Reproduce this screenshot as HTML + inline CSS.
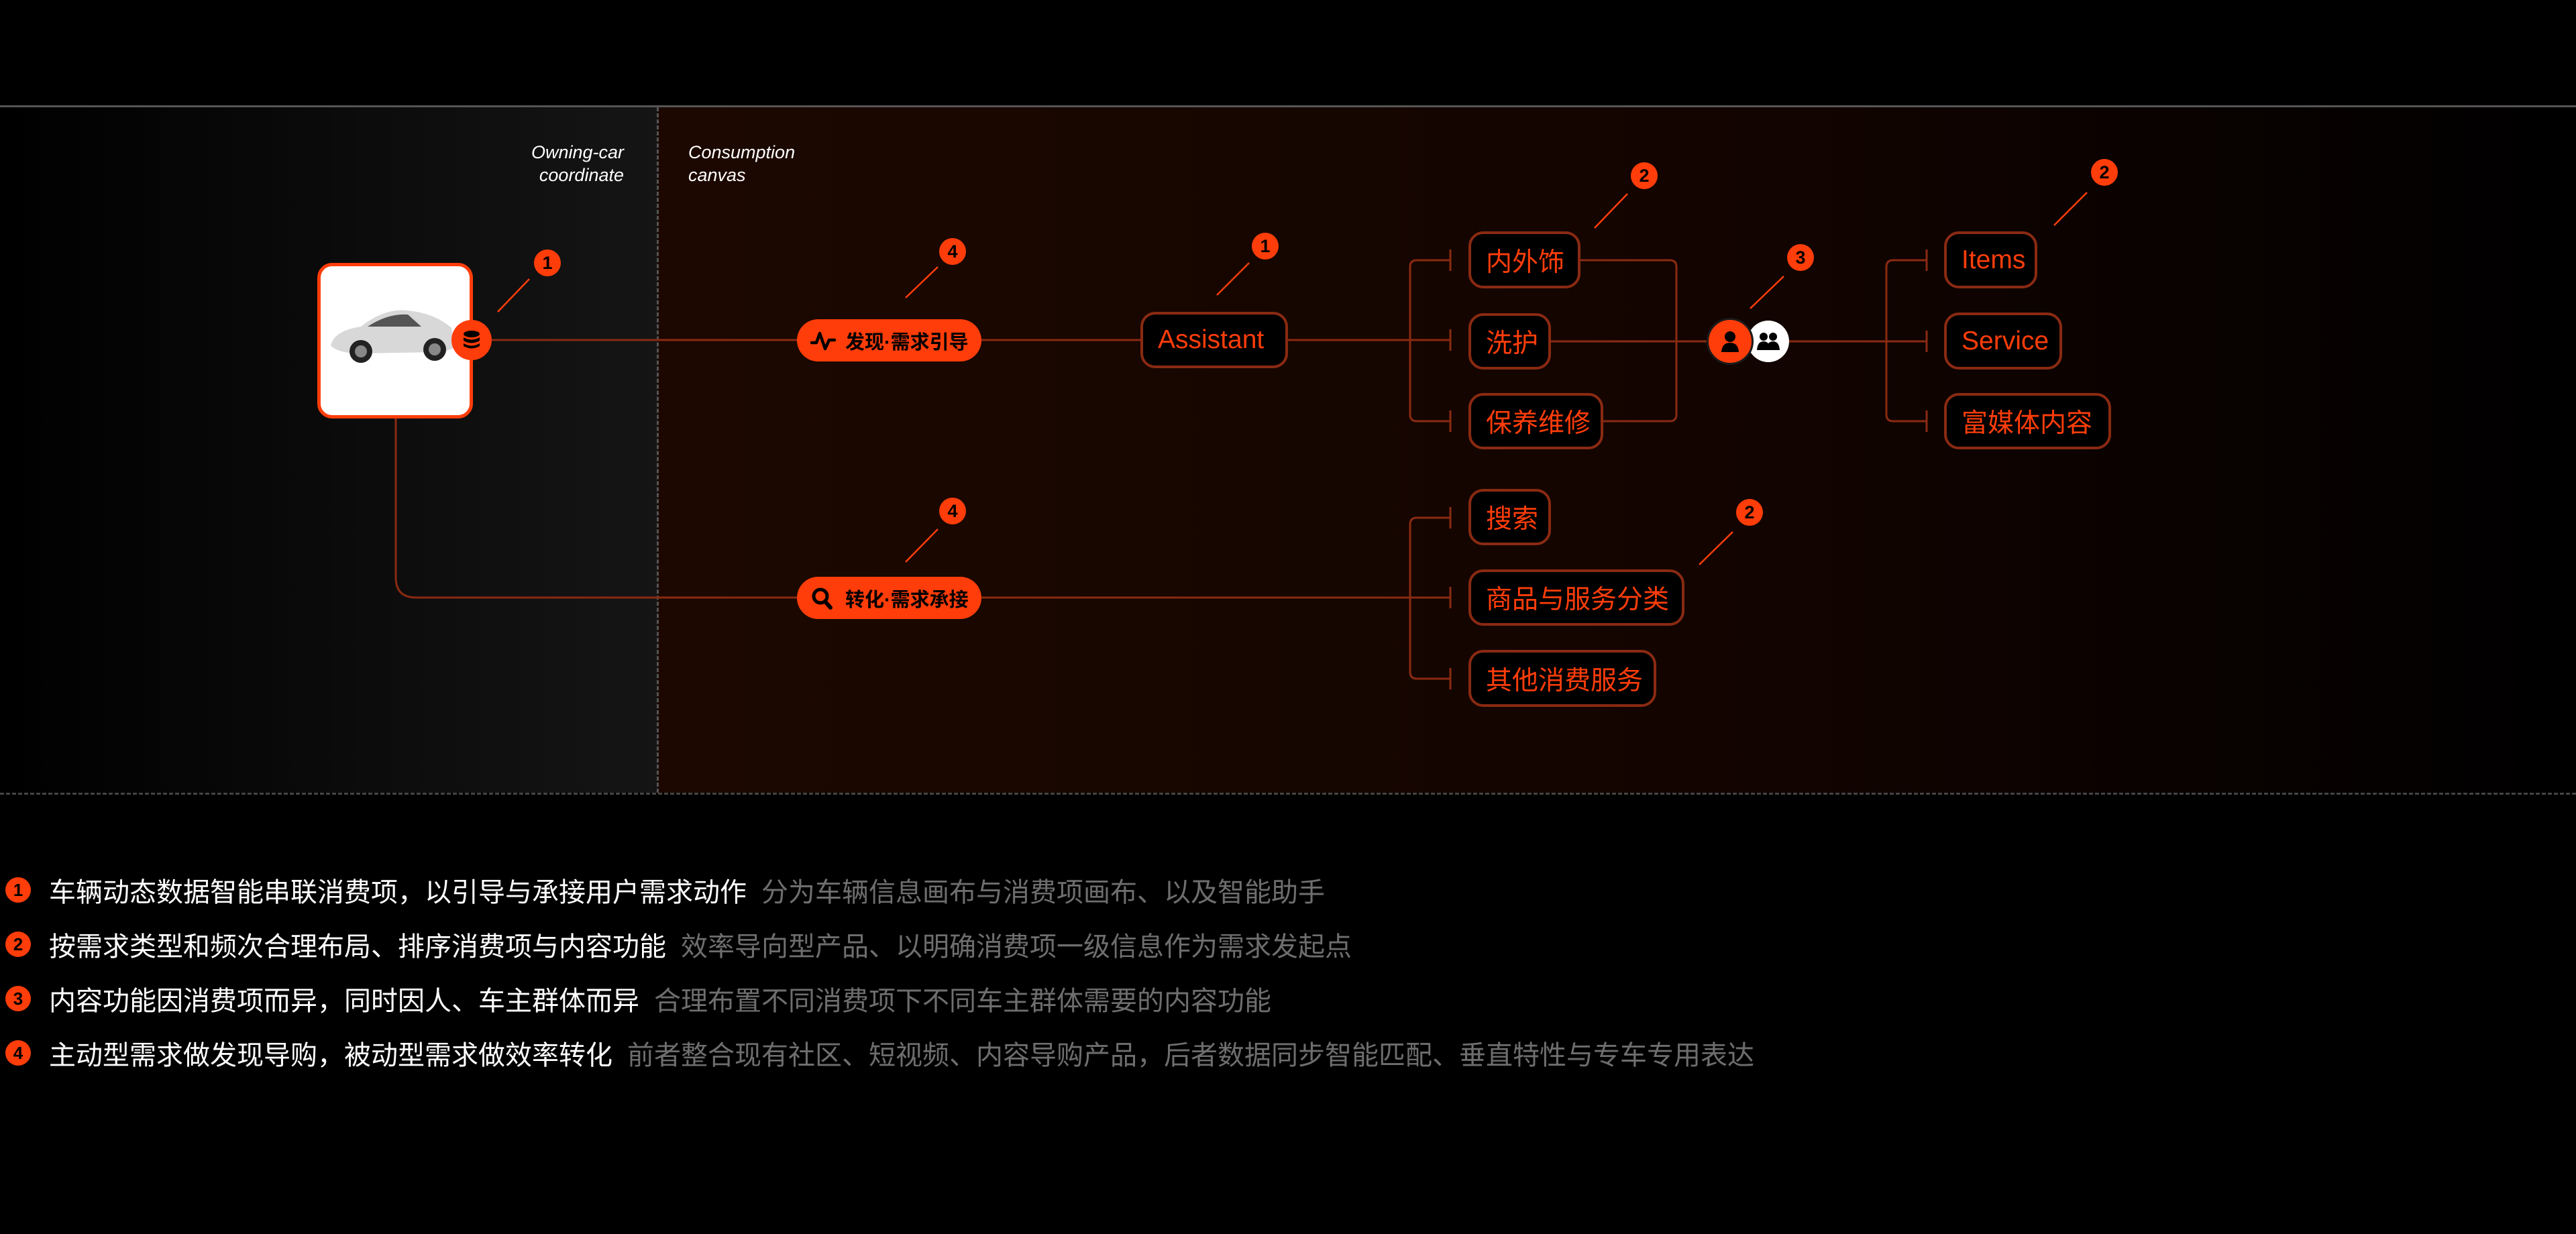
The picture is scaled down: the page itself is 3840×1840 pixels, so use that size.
<!DOCTYPE html>
<html><head><meta charset="utf-8"><style>
*{margin:0;padding:0;box-sizing:border-box}
body{width:3840px;height:1840px;background:#000;position:relative;overflow:hidden;font-family:"Liberation Sans","Noto Sans CJK SC",sans-serif}
.a{position:absolute}
.box{position:absolute;border:4px solid #8a2a12;border-radius:22px;background:#000;color:#ff3d0a;font-size:39px;display:flex;align-items:center;padding-left:22px;white-space:nowrap}
.pill{position:absolute;background:#ff3d0a;border-radius:32px;color:#000;font-weight:bold;font-size:29px;display:flex;align-items:center;white-space:nowrap}
.b{position:absolute;width:40px;height:40px;border-radius:50%;background:#ff3d0a;color:#000;font-size:27px;font-weight:bold;display:flex;align-items:center;justify-content:center}
.lg{position:absolute;left:0;font-size:40px;color:#fff;white-space:nowrap;display:flex;align-items:center}
.lg .n{width:38px;height:38px;border-radius:50%;background:#ff3d0a;color:#000;font-size:26px;font-weight:bold;display:flex;align-items:center;justify-content:center;margin-left:8px;margin-right:27px}
.lg .g{color:#6e6e6e;margin-left:22px}
</style></head><body>
<div class="a" style="left:0;top:157px;width:3840px;height:3px;background:#555"></div>
<div class="a" style="left:0;top:160px;width:980px;height:1022px;background:linear-gradient(90deg,#000,#151515)"></div>
<div class="a" style="left:980px;top:160px;width:2860px;height:1022px;background:linear-gradient(90deg,#1c0800,#120400 60%,#000)"></div>
<div class="a" style="left:979px;top:160px;height:1022px;border-left:3px dashed #555"></div>
<div class="a" style="left:0;top:1182px;width:3840px;border-top:3px dashed #444"></div>
<div class="a" style="left:700px;top:210px;width:230px;text-align:right;color:#fff;font-style:italic;font-size:27px;line-height:34px">Owning-car<br>coordinate</div>
<div class="a" style="left:1026px;top:210px;color:#fff;font-style:italic;font-size:27px;line-height:34px">Consumption<br>canvas</div>

<svg class="a" style="left:0;top:0" width="3840" height="1840">
<g stroke="#8a2a12" stroke-width="3" fill="none">
<line x1="703" y1="507" x2="2162" y2="507"/>
<path d="M590 620 V861 Q590 891 620 891 H2162"/>
<path d="M2162 388 H2112 Q2102 388 2102 398 V618 Q2102 628 2112 628 H2162"/>
<path d="M2162 772 H2112 Q2102 772 2102 782 V1002 Q2102 1012 2112 1012 H2162"/>
<path d="M2356 388 H2489 Q2499 388 2499 398 V618 Q2499 628 2489 628 H2390"/>
<line x1="2312" y1="509" x2="2872" y2="509"/>
<path d="M2872 388 H2822 Q2812 388 2812 398 V618 Q2812 628 2822 628 H2872"/>
<line x1="2162" y1="372" x2="2162" y2="404"/><line x1="2162" y1="491" x2="2162" y2="523"/><line x1="2162" y1="612" x2="2162" y2="644"/>
<line x1="2162" y1="756" x2="2162" y2="788"/><line x1="2162" y1="875" x2="2162" y2="907"/><line x1="2162" y1="996" x2="2162" y2="1028"/>
<line x1="2872" y1="372" x2="2872" y2="404"/><line x1="2872" y1="493" x2="2872" y2="525"/><line x1="2872" y1="612" x2="2872" y2="644"/>
</g>
<g stroke="#ff3d0a" stroke-width="2.5">
<line x1="789" y1="416" x2="742" y2="465"/>
<line x1="1398" y1="398" x2="1350" y2="444"/>
<line x1="1862" y1="392" x2="1814" y2="440"/>
<line x1="2426" y1="289" x2="2377" y2="340"/>
<line x1="2659" y1="412" x2="2609" y2="460"/>
<line x1="3111" y1="287" x2="3062" y2="336"/>
<line x1="2583" y1="793" x2="2533" y2="842"/>
<line x1="1398" y1="789" x2="1350" y2="838"/>
</g>
</svg>

<div class="a" style="left:473px;top:392px;width:232px;height:232px;background:#fff;border:5px solid #ff3d0a;border-radius:22px;overflow:hidden">
<svg width="222" height="222" viewBox="0 0 222 222"><path d="M15 118 Q20 96 60 90 Q95 62 130 66 Q170 70 195 92 L200 120 Q190 128 170 128 L60 130 Q25 130 15 118Z" fill="#d8d8d8"/><path d="M70 90 Q100 70 130 72 L150 90Z" fill="#555"/><circle cx="60" cy="127" r="17" fill="#222"/><circle cx="170" cy="124" r="17" fill="#222"/><circle cx="60" cy="127" r="9" fill="#888"/><circle cx="170" cy="124" r="9" fill="#888"/></svg>
</div>
<div class="a" style="left:673px;top:477px;width:60px;height:60px;border-radius:50%;background:#ff3d0a;display:flex;align-items:center;justify-content:center">
<svg width="26" height="30" viewBox="0 0 26 30"><ellipse cx="13" cy="6" rx="12" ry="5" fill="#000"/><path d="M1 11 Q13 18 25 11 V16 Q13 23 1 16Z M1 20 Q13 27 25 20 V24 Q13 31 1 24Z" fill="#000"/></svg></div>

<div class="pill" style="left:1188px;top:476px;width:275px;height:63px;padding-left:20px">
<svg width="40" height="30" viewBox="0 0 40 30" style="margin-right:12px"><path d="M2 18 H9 L14 4 L22 27 L28 14 H36" stroke="#000" stroke-width="4.5" fill="none" stroke-linecap="round" stroke-linejoin="round"/></svg>发现·需求引导</div>
<div class="pill" style="left:1188px;top:860px;width:275px;height:63px;padding-left:20px">
<svg width="40" height="34" viewBox="0 0 40 34" style="margin-right:12px"><circle cx="15" cy="14" r="10" stroke="#000" stroke-width="5" fill="none"/><line x1="22" y1="22" x2="30" y2="31" stroke="#000" stroke-width="6" stroke-linecap="round"/></svg>转化·需求承接</div>

<div class="box" style="left:1700px;top:465px;width:220px;height:84px">Assistant</div>
<div class="box" style="left:2189px;top:345px;width:167px;height:85px">内外饰</div>
<div class="box" style="left:2189px;top:467px;width:123px;height:84px">洗护</div>
<div class="box" style="left:2189px;top:586px;width:201px;height:84px">保养维修</div>
<div class="box" style="left:2189px;top:729px;width:123px;height:84px">搜索</div>
<div class="box" style="left:2189px;top:849px;width:322px;height:84px">商品与服务分类</div>
<div class="box" style="left:2189px;top:969px;width:280px;height:85px">其他消费服务</div>
<div class="box" style="left:2898px;top:345px;width:139px;height:85px">Items</div>
<div class="box" style="left:2898px;top:466px;width:176px;height:85px">Service</div>
<div class="box" style="left:2898px;top:586px;width:249px;height:84px">富媒体内容</div>

<div class="a" style="left:2605px;top:478px;width:62px;height:62px;border-radius:50%;background:#fff;display:flex;align-items:center;justify-content:center">
<svg width="36" height="30" viewBox="0 0 36 30"><circle cx="11" cy="8" r="6" fill="#000"/><circle cx="25" cy="8" r="6" fill="#000"/><path d="M1 28 Q2 15 11 15 Q20 15 21 28Z M15 28 Q16 15 25 15 Q34 15 35 28Z" fill="#000"/></svg></div>
<div class="a" style="left:2544px;top:474px;width:70px;height:70px;border-radius:50%;background:#ff3d0a;border:3px solid #1a1a1a;display:flex;align-items:center;justify-content:center">
<svg width="30" height="34" viewBox="0 0 30 34"><circle cx="15" cy="10" r="8" fill="#000"/><path d="M2 33 Q3 19 15 19 Q27 19 28 33Z" fill="#000"/></svg></div>

<div class="b" style="left:796px;top:372px">1</div>
<div class="b" style="left:1400px;top:355px">4</div>
<div class="b" style="left:1866px;top:347px">1</div>
<div class="b" style="left:2431px;top:242px">2</div>
<div class="b" style="left:2664px;top:364px">3</div>
<div class="b" style="left:3117px;top:237px">2</div>
<div class="b" style="left:2588px;top:744px">2</div>
<div class="b" style="left:1400px;top:742px">4</div>

<div class="lg" style="top:1298px"><span class="n">1</span>车辆动态数据智能串联消费项，以引导与承接用户需求动作<span class="g">分为车辆信息画布与消费项画布、以及智能助手</span></div>
<div class="lg" style="top:1379px"><span class="n">2</span>按需求类型和频次合理布局、排序消费项与内容功能<span class="g">效率导向型产品、以明确消费项一级信息作为需求发起点</span></div>
<div class="lg" style="top:1460px"><span class="n">3</span>内容功能因消费项而异，同时因人、车主群体而异<span class="g">合理布置不同消费项下不同车主群体需要的内容功能</span></div>
<div class="lg" style="top:1541px"><span class="n">4</span>主动型需求做发现导购，被动型需求做效率转化<span class="g">前者整合现有社区、短视频、内容导购产品，后者数据同步智能匹配、垂直特性与专车专用表达</span></div>
</body></html>
